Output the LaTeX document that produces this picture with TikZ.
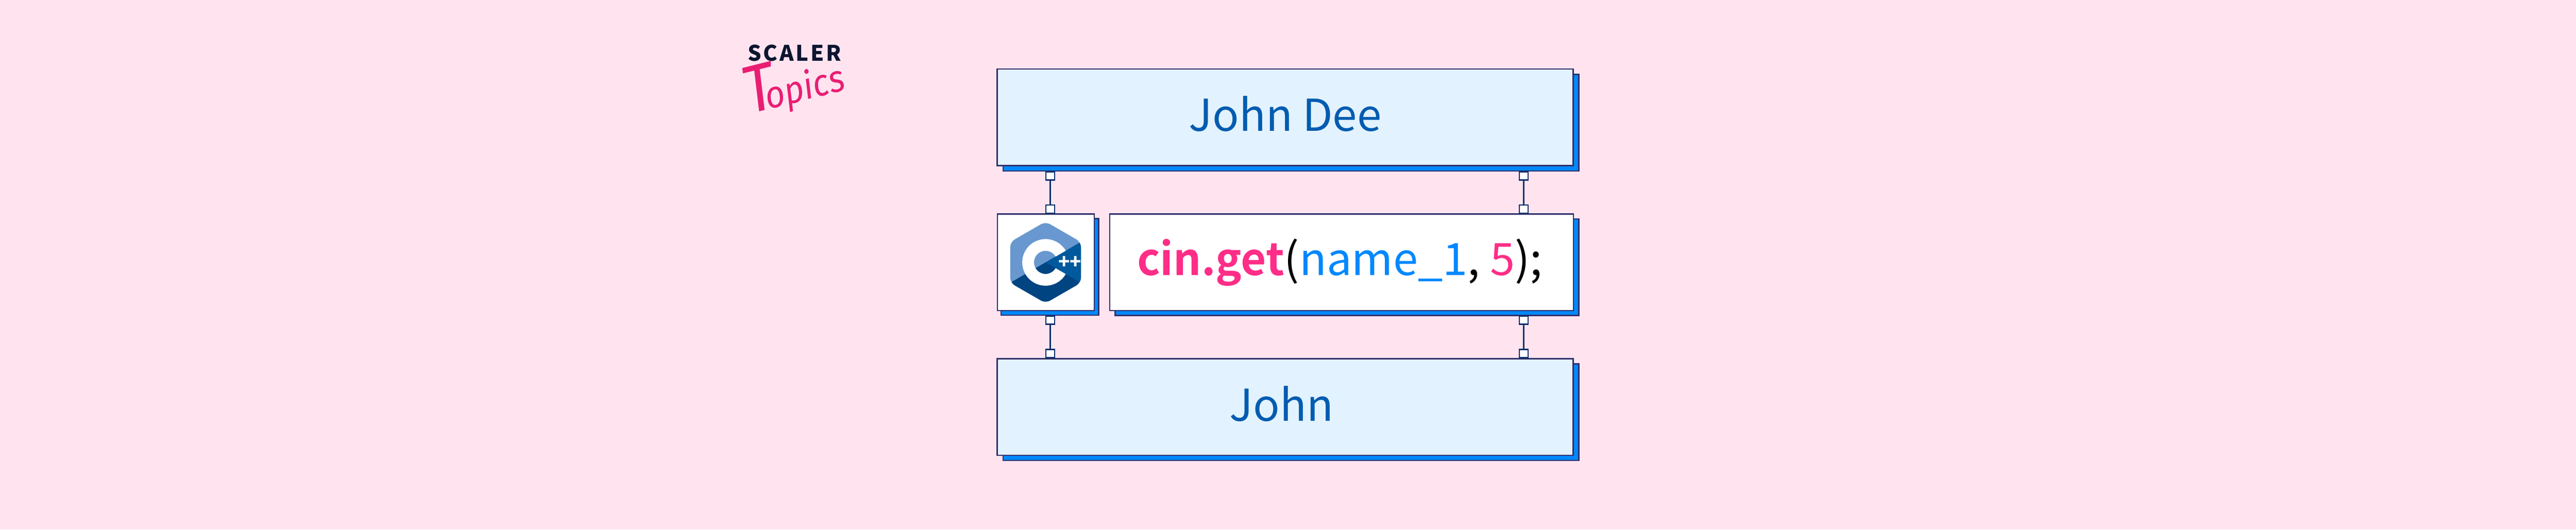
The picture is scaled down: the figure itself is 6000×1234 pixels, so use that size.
\documentclass[tikz,border=0pt]{standalone}
\usepackage{fontspec}
\setmainfont{Noto Sans CJK JP}
\newfontfamily\codebold[FakeStretch=0.98]{Noto Sans CJK JP Bold}
\newfontfamily\topicsfont[FakeStretch=0.9]{Fira Sans}
\definecolor{bgpink}{HTML}{FFE4F0}
\definecolor{lightbox}{HTML}{E3F2FF}
\definecolor{shadowblue}{HTML}{0088FF}
\definecolor{edgeblue}{HTML}{33306B}
\definecolor{linkblue}{HTML}{0F2F6B}
\definecolor{labelblue}{HTML}{005CB0}
\definecolor{codepink}{HTML}{FF2D87}
\definecolor{logopink}{HTML}{E91E73}
\definecolor{logonavy}{HTML}{0D1530}
\definecolor{cpplight}{HTML}{6898CF}
\definecolor{cppmid}{HTML}{00599C}
\definecolor{cppdark}{HTML}{004482}
\tikzset{
  x=0.25pt,y=-0.25pt,
  boxbase/.style={draw=edgeblue,line width=0.75pt,inner sep=0pt,outer sep=0pt,minimum height=56.25pt},
  shadowbox/.style={boxbase,fill=shadowblue},
  lightpanel/.style={boxbase,fill=lightbox,text=labelblue,font=\fontsize{25.6pt}{30pt}\selectfont,text height=16.4pt,text depth=0pt},
  whitepanel/.style={boxbase,fill=white},
  port/.style={draw=linkblue,fill=white,line width=0.72pt,inner sep=0pt,outer sep=0pt,minimum width=5.1pt,minimum height=4.8pt},
  link/.style={draw=linkblue,line width=0.85pt},
}
\begin{document}
\begin{tikzpicture}
\useasboundingbox (0,0) rectangle (6000,1234);
\fill[bgpink] (0,0) rectangle (6000,1234);
% shadows
\node[shadowbox,minimum width=335.25pt] (topshadow) at (3007,286) {};
\node[shadowbox,minimum width=56.9pt] (iconshadow) at (2445.3,622) {};
\node[shadowbox,minimum width=270pt] (codeshadow) at (3137.2,622.5) {};
\node[shadowbox,minimum width=335.25pt] (botshadow) at (3007,960) {};
% panels
\node[lightpanel,minimum width=335.4pt] (top) at (2993.6,273) {John Dee};
\node[whitepanel,minimum width=56.5pt] (icon) at (2436,611) {};
\node[whitepanel,minimum width=270pt,text height=15.4pt,text depth=0pt,font=\fontsize{26pt}{30pt}\selectfont] (code) at (3124.5,611)
  {\hspace*{-2pt}\textcolor{codepink}{\codebold cin.get}(\textcolor{shadowblue}{name\_1}, \textcolor{codepink}{5});};
\node[lightpanel,minimum width=335.4pt] (bot) at (2993.6,948) {\hspace*{-4.3pt}John};
% connectors
\node[port] (p1) at (2446,410) {};
\node[port] (p2) at (2446,487) {};
\node[port] (p3) at (3549,410) {};
\node[port] (p4) at (3549,487) {};
\node[port] (p5) at (2446,746) {};
\node[port] (p6) at (2446,824) {};
\node[port] (p7) at (3549,746) {};
\node[port] (p8) at (3549,824) {};
\draw[link] (p1) -- (p2);
\draw[link] (p3) -- (p4);
\draw[link] (p5) -- (p6);
\draw[link] (p7) -- (p8);
% C++ logo
\begin{scope}[shift={(2435.3,611.3)}]
  \begin{scope}
    \clip[rounded corners=3pt] (0,-95) -- (82.3,-47.5) -- (82.3,47.5) -- (0,95) -- (-82.3,47.5) -- (-82.3,-47.5) -- cycle;
    \fill[cpplight] (-100,-100) rectangle (100,100);
    \fill[cppdark] (-100,57.7) -- (100,-57.7) -- (100,100) -- (-100,100) -- cycle;
    \fill[cppmid] (0,0) -- (100,-57.7) -- (100,57.7) -- cycle;
  \end{scope}
  \fill[white] (30:54.3) arc[start angle=30,end angle=330,radius=54.3]
     -- (-30:27) arc[start angle=330,end angle=30,radius=27] -- cycle;
  \node[text=white,font=\fontsize{11pt}{11pt}\bfseries\selectfont,inner sep=0pt] (plus) at (57,0) {++};
\end{scope}
% Scaler logo
\node[text=logonavy,font=\fontsize{12.5pt}{14pt}\bfseries\selectfont,inner sep=0pt,anchor=base west] (scaler) at (1741,141.7) {\addfontfeature{LetterSpace=9}SCALER};
\node[text=logopink,font=\fontsize{22pt}{30pt}\topicsfont\itshape,inner sep=0pt,rotate=14,anchor=base west] (topics) at (1745,266) {{\fontsize{39pt}{39pt}\selectfont T}\kern-6.5pt opics};
\end{tikzpicture}
\end{document}
